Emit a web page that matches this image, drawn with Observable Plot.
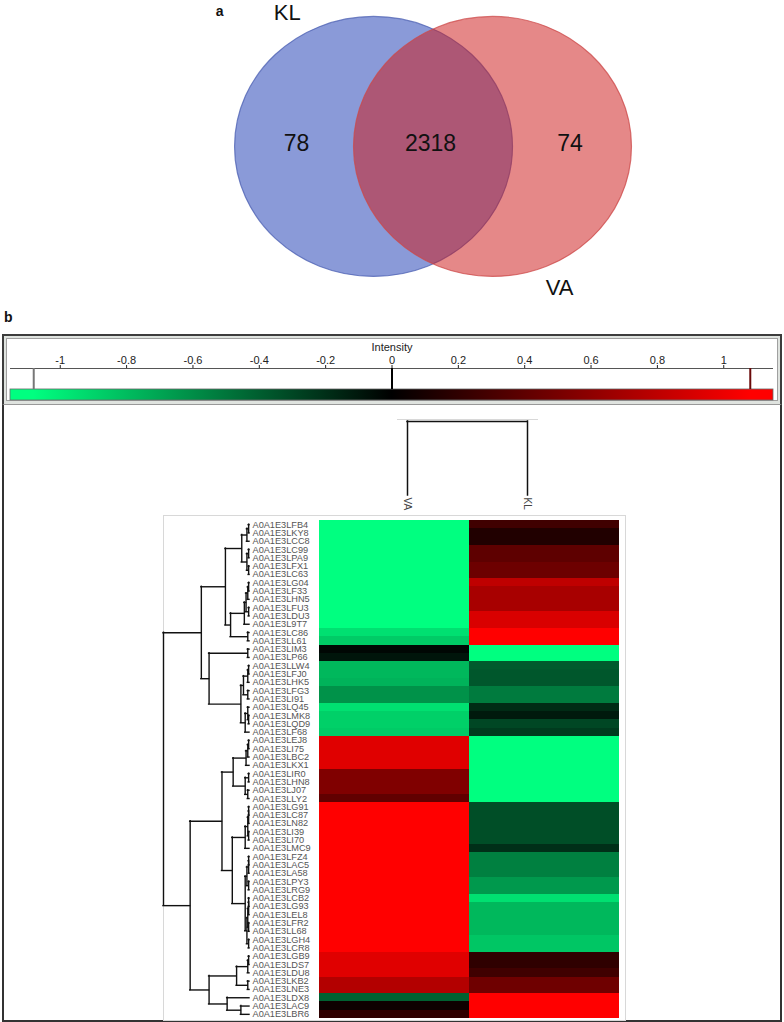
<!DOCTYPE html>
<html><head><meta charset="utf-8">
<script src="https://cdn.jsdelivr.net/npm/d3@7"></script>
<script src="https://cdn.jsdelivr.net/npm/@observablehq/plot@0.6"></script>
<style>
body{margin:0;background:#fff;font-family:"Liberation Sans",Arial,sans-serif;}
#root{position:relative;width:784px;height:1022px;overflow:hidden;}
#root > *{position:absolute;}
.box{box-sizing:border-box;}
</style></head><body><div id="root"></div>
<script>
// ---------------- data ----------------
const vennSets = ["KL", "VA"];
const vennRegions = ["KL only", "KL and VA", "VA only"];
const vennCounts = [78, 2318, 74];

const columns = ["VA", "KL"];
const colTree = ["VA", "KL", 1];

const rowIds = [
  "A0A1E3LFB4","A0A1E3LKY8","A0A1E3LCC8","A0A1E3LC99","A0A1E3LPA9","A0A1E3LFX1","A0A1E3LC63",
  "A0A1E3LG04","A0A1E3LF33","A0A1E3LHN5","A0A1E3LFU3","A0A1E3LDU3","A0A1E3L9T7","A0A1E3LC86",
  "A0A1E3LL61","A0A1E3LIM3","A0A1E3LP66","A0A1E3LLW4","A0A1E3LFJ0","A0A1E3LHK5","A0A1E3LFG3",
  "A0A1E3LI91","A0A1E3LQ45","A0A1E3LMK8","A0A1E3LQD9","A0A1E3LF68","A0A1E3LEJ8","A0A1E3LI75",
  "A0A1E3LBC2","A0A1E3LKX1","A0A1E3LIR0","A0A1E3LHN8","A0A1E3LJ07","A0A1E3LLY2","A0A1E3LG91",
  "A0A1E3LC87","A0A1E3LN82","A0A1E3LI39","A0A1E3LI70","A0A1E3LMC9","A0A1E3LFZ4","A0A1E3LAC5",
  "A0A1E3LA58","A0A1E3LPY3","A0A1E3LRG9","A0A1E3LCB2","A0A1E3LG93","A0A1E3LEL8","A0A1E3LFR2",
  "A0A1E3LL68","A0A1E3LGH4","A0A1E3LCR8","A0A1E3LGB9","A0A1E3LDS7","A0A1E3LDU8","A0A1E3LKB2",
  "A0A1E3LNE3","A0A1E3LDX8","A0A1E3LAC9","A0A1E3LBR6"
];

const vaValues = [
  -1.1,-1.1,-1.1,-1.1,-1.1,-1.1,-1.1,-1.1,-1.1,-1.1,-1.1,-1.1,-1.1,-0.95,-0.86,
  -0.03,-0.09,-0.78,-0.78,-0.76,-0.62,-0.62,-0.95,-0.88,-0.88,-0.86,
  0.95,0.95,0.95,0.95,0.54,0.54,0.54,0.41,
  1.1,1.1,1.1,1.1,1.1,1.1,1.1,1.1,1.1,1.1,1.1,1.1,1.1,1.1,1.1,1.1,1.1,1.1,
  0.95,0.95,0.95,0.76,0.76,-0.41,0.06,0.2
];
const klValues = [
  0.27,0.14,0.14,0.4,0.4,0.46,0.46,0.81,0.71,0.71,0.71,0.92,0.92,1.1,1.1,
  -1.1,-1.1,-0.38,-0.37,-0.37,-0.52,-0.52,-0.18,-0.11,-0.3,-0.25,
  -1.1,-1.1,-1.1,-1.1,-1.1,-1.1,-1.1,-1.1,
  -0.33,-0.33,-0.33,-0.33,-0.33,-0.2,-0.54,-0.54,-0.54,-0.65,-0.65,-0.95,
  -0.78,-0.78,-0.78,-0.78,-0.84,-0.84,
  0.2,0.2,0.27,0.47,0.47,1.1,1.1,1.1
];

// hierarchical clustering of rows: [left, right, height]; leaves are id suffixes
const rowTree =
[ [ [ [ [["LFB4","LKY8",0.01],"LCC8",0.03], [["LC99","LPA9",0.01],["LFX1","LC63",0.01],0.03], 0.09 ],
      [ [[[["LG04","LF33",0.01],"LHN5",0.02],["LFU3","LDU3",0.01],0.04],"L9T7",0.06], ["LC86","LL61",0.02], 0.22 ],
      0.28 ],
    [ ["LIM3","LP66",0.02],
      [ [[["LLW4","LFJ0",0.01],"LHK5",0.02],["LFG3","LI91",0.02],0.07],
        [["LQ45",["LMK8","LQD9",0.01],0.02],"LF68",0.05], 0.10 ],
      0.47 ],
    0.56 ],
  [ [ [ [[["LEJ8","LI75",0.01],"LBC2",0.02],"LKX1",0.04], [["LIR0","LHN8",0.01],["LJ07","LLY2",0.02],0.05], 0.19 ],
      [ [[[["LG91","LC87",0.01],"LN82",0.01],["LI39","LI70",0.01],0.02],"LMC9",0.05],
        [ [[["LFZ4","LAC5",0.01],"LA58",0.01],["LPY3","LRG9",0.01],0.03],
          [[[["LCB2","LG93",0.01],"LEL8",0.01],["LFR2","LL68",0.01],0.02],["LGH4","LCR8",0.01],0.03], 0.05 ],
        0.2 ],
      0.32 ],
    [ [ [["LGB9","LDS7",0.01],"LDU8",0.02], ["LKB2","LNE3",0.02], 0.15 ],
      ["LDX8", ["LAC9","LBR6",0.1], 0.26],
      0.47 ],
    0.69 ],
  1.0 ];

const intensityExtent = [-1.15, 1.15];
const intensityTicks = [-1, -0.8, -0.6, -0.4, -0.2, 0, 0.2, 0.4, 0.6, 0.8, 1];
const intensityLimits = [-1.08, 0, 1.08];

// ---------------- styles / layout ----------------
const FONT = '"Liberation Sans", Arial, Helvetica, sans-serif';
const colorDomain = [-1.08, 0, 1.08];
const colorRange = ["#00ff80", "#000000", "#ff0000"];
const root = document.getElementById("root");

function place(el, left, top) {
  el.style.position = "absolute";
  el.style.left = left + "px";
  el.style.top = top + "px";
  root.appendChild(el);
  return el;
}
function box(left, top, w, h, css) {
  const d = document.createElement("div");
  d.className = "box";
  d.style.width = w + "px"; d.style.height = h + "px";
  Object.assign(d.style, css);
  return place(d, left, top);
}

// ---------------- panel a : Venn ----------------
function ellipseSymbol(aspect) {
  return {
    draw(ctx, size) {
      const ry = Math.sqrt(size / Math.PI), rx = ry * aspect, k = 0.5523;
      ctx.moveTo(rx, 0);
      ctx.bezierCurveTo(rx, k * ry, k * rx, ry, 0, ry);
      ctx.bezierCurveTo(-k * rx, ry, -rx, k * ry, -rx, 0);
      ctx.bezierCurveTo(-rx, -k * ry, -k * rx, -ry, 0, -ry);
      ctx.bezierCurveTo(k * rx, -ry, rx, -k * ry, rx, 0);
      ctx.closePath();
    }
  };
}
const vennCenter = {KL: -0.428, VA: 0.428};
const vennFill = {KL: "rgb(30,61,180)", VA: "rgb(205,26,26)"};
const vennStroke = {KL: "#4b5fb2", VA: "#cc4a4a"};
const vennLabelPos = {KL: [-1.049, 1.027], VA: [0.91, -1.085]};
const regionX = [-0.982, -0.018, 0.986];
const ell = ellipseSymbol(1.069);

const venn = Plot.plot({
  width: 784, height: 300, margin: 0,
  style: {background: "transparent", fontFamily: FONT},
  x: {domain: [-3.112, 2.529], axis: null},
  y: {domain: [-1.185, 1.123], axis: null},
  marks: [
    ...vennSets.map(s => Plot.dot([s], {
      x: d => vennCenter[d], y: () => 0, r: 130, symbol: ell,
      fill: vennFill[s], fillOpacity: 0.52, stroke: vennStroke[s], strokeWidth: 1.2, strokeOpacity: 0.75
    })),
    Plot.text(vennCounts, {x: (d, i) => regionX[i], y: () => 0.02, text: d => String(d),
      fontSize: 23, fill: "#111", title: (d, i) => vennRegions[i]}),
    Plot.text(vennSets, {x: d => vennLabelPos[d][0], y: d => vennLabelPos[d][1], text: d => d,
      fontSize: 22, fill: "#111"}),
    Plot.text(["a"], {x: () => -1.536, y: () => 1.038, text: d => d, fontSize: 14, fontWeight: "bold", fill: "#111"})
  ]
});
place(venn, 0, 0);

// ---------------- panel b ----------------
const bLabel = document.createElement("div");
bLabel.textContent = "b";
Object.assign(bLabel.style, {font: `bold 14px ${FONT}`, color: "#111", lineHeight: "14px"});
place(bLabel, 4, 310);

// frames
box(2, 334, 780, 72, {border: "2px solid #3c3c3c", background: "#dfe3df"});
box(6, 338, 772, 63, {border: "1px solid #a0a0a0", background: "#fff"});
box(2, 404, 780, 618, {border: "2px solid #333", borderTop: "1px solid #999", background: "#fff"});
box(163, 515, 463, 506, {border: "1px solid #d8d8d8"});
box(397, 419, 141, 97, {borderTop: "1px solid #d8d8d8"});

// colour bar
const cb = Plot.plot({
  width: 784, height: 66, marginLeft: 10, marginRight: 11, marginTop: 31, marginBottom: 3,
  style: {background: "transparent", fontFamily: FONT, fontSize: "11px", color: "#222"},
  x: {domain: intensityExtent, ticks: intensityTicks, tickFormat: d => String(d), tickSize: 4,
      tickPadding: 1, label: null, axis: "top"},
  y: {domain: [0, 1], axis: null},
  marks: [
    Plot.rect([intensityExtent], {x1: d => d[0], x2: d => d[1], y1: () => 0, y2: () => 0.344,
      fill: "url(#intensityRamp)", stroke: "#6a6a6a", strokeWidth: 0.8}),
    Plot.ruleY([1], {stroke: "#555", strokeWidth: 1}),
    Plot.ruleX([intensityLimits[0]], {y1: () => 0.344, y2: () => 1, stroke: "#777", strokeWidth: 2}),
    Plot.ruleX([intensityLimits[1]], {y1: () => 0.344, y2: () => 1, stroke: "#000", strokeWidth: 2}),
    Plot.ruleX([intensityLimits[2]], {y1: () => 0.344, y2: () => 1, stroke: "#6a0a0a", strokeWidth: 2}),
    Plot.text(["Intensity"], {frameAnchor: "top", dy: -25, fontSize: 11, fill: "#222"})
  ]
});
{
  const lg = d3.select(cb).insert("defs", ":first-child").append("linearGradient")
    .attr("id", "intensityRamp").attr("x1", "0%").attr("x2", "100%").attr("y1", "0%").attr("y2", "0%");
  const span = intensityExtent[1] - intensityExtent[0];
  colorDomain.forEach((v, i) => {
    lg.append("stop").attr("offset", ((v - intensityExtent[0]) / span * 100) + "%").attr("stop-color", colorRange[i]);
  });
}
place(cb, 0, 337);

// column dendrogram
const colDendro = Plot.plot({
  width: 240, height: 105, marginLeft: 60, marginRight: 60, marginTop: 11, marginBottom: 20,
  style: {background: "transparent", fontFamily: FONT},
  x: {type: "point", domain: columns, padding: 0, axis: null},
  y: {domain: [0, colTree[2]], axis: null},
  marks: [
    Plot.ruleX(columns, {x: d => d, y1: () => 0, y2: () => colTree[2], stroke: "#111", strokeWidth: 1.5, strokeLinecap: "square"}),
    Plot.ruleY([colTree[2]], {x1: () => colTree[0], x2: () => colTree[1], stroke: "#111", strokeWidth: 1.5, strokeLinecap: "square"}),
    Plot.text(columns, {x: d => d, y: () => 0, text: d => d, rotate: 90, textAnchor: "start", dy: 2,
      fontSize: 10, fill: "#444"})
  ]
});
place(colDendro, 347, 410);

// row dendrogram layout
const vSegs = [], hSegs = [];
function layout(node) {
  if (typeof node === "string") return {y: rowIds.indexOf("A0A1E3" + node), h: 0};
  const [l, r, h] = node;
  const a = layout(l), b = layout(r);
  vSegs.push({h, y1: a.y, y2: b.y});
  hSegs.push({y: a.y, h1: a.h, h2: h}, {y: b.y, h1: b.h, h2: h});
  return {y: (a.y + b.y) / 2, h};
}
layout(rowTree);

const HM_H = 504;
const rowDendro = Plot.plot({
  width: 156, height: HM_H, marginLeft: 0, marginRight: 70, marginTop: 4, marginBottom: 2,
  style: {background: "transparent", fontFamily: FONT, overflow: "visible"},
  x: {domain: [0, rowTree[2]], reverse: true, axis: null},
  y: {domain: [-0.5, rowIds.length - 0.5], reverse: true, axis: null},
  marks: [
    Plot.ruleY(hSegs, {y: "y", x1: "h1", x2: "h2", stroke: "#111", strokeWidth: 1.4, strokeLinecap: "square"}),
    Plot.ruleX(vSegs, {x: "h", y1: "y1", y2: "y2", stroke: "#111", strokeWidth: 1.4, strokeLinecap: "square"}),
    Plot.text(rowIds, {x: () => 0, y: (d, i) => i, text: d => d, textAnchor: "start", dx: 3,
      fontSize: 9.2, fill: "#555"})
  ]
});
place(rowDendro, 163, 516);

// heatmap
const cells = [];
rowIds.forEach((id, i) => {
  cells.push({row: id, col: "VA", value: vaValues[i]});
  cells.push({row: id, col: "KL", value: klValues[i]});
});
const heat = Plot.plot({
  width: 462, height: HM_H, marginLeft: 156, marginRight: 6, marginTop: 4, marginBottom: 2,
  style: {background: "transparent", fontFamily: FONT},
  x: {type: "band", domain: columns, padding: 0, round: false, axis: null},
  y: {type: "band", domain: rowIds, padding: 0, round: false, axis: null},
  color: {type: "linear", domain: colorDomain, range: colorRange, interpolate: "rgb", clamp: true},
  marks: [
    Plot.cell(cells, {x: "col", y: "row", fill: "value", inset: 0, shapeRendering: "crispEdges"})
  ]
});
place(heat, 163, 516);
</script></body></html>
